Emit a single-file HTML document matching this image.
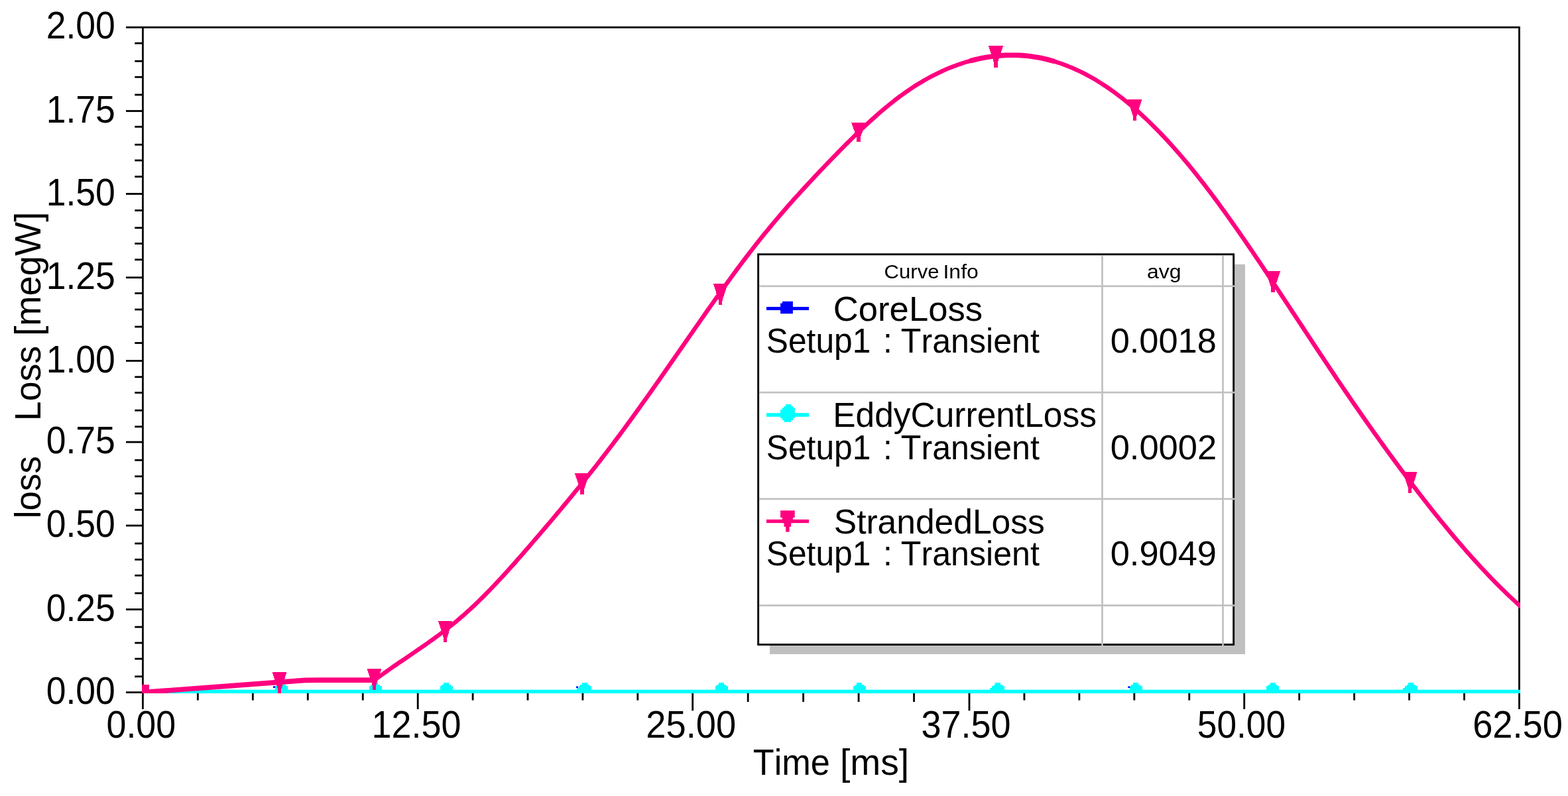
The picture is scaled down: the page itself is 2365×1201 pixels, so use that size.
<!DOCTYPE html>
<html lang="en"><head><meta charset="utf-8"><title>loss plot</title>
<style>html,body{margin:0;padding:0;background:#fff;overflow:hidden}svg{display:block}text{font-family:"Liberation Sans",sans-serif;fill:#000;font-kerning:none;white-space:pre}</style>
</head><body>
<svg width="2365" height="1201" viewBox="0 0 2365 1201">
<rect x="0" y="0" width="2365" height="1201" fill="#fff"/>
<g>
<rect x="190.00" y="39.85" width="25.40" height="2.80" fill="#000"/>
<rect x="203.30" y="63.85" width="12.10" height="2.80" fill="#000"/>
<rect x="203.30" y="90.85" width="12.10" height="2.80" fill="#000"/>
<rect x="203.30" y="114.85" width="12.10" height="2.80" fill="#000"/>
<rect x="203.30" y="141.60" width="12.10" height="2.80" fill="#000"/>
<rect x="190.00" y="166.10" width="25.40" height="2.80" fill="#000"/>
<rect x="203.30" y="189.85" width="12.10" height="2.80" fill="#000"/>
<rect x="203.30" y="216.85" width="12.10" height="2.80" fill="#000"/>
<rect x="203.30" y="240.60" width="12.10" height="2.80" fill="#000"/>
<rect x="203.30" y="265.10" width="12.10" height="2.80" fill="#000"/>
<rect x="190.00" y="291.10" width="25.40" height="2.80" fill="#000"/>
<rect x="203.30" y="316.10" width="12.10" height="2.80" fill="#000"/>
<rect x="203.30" y="342.35" width="12.10" height="2.80" fill="#000"/>
<rect x="203.30" y="366.10" width="12.10" height="2.80" fill="#000"/>
<rect x="203.30" y="390.35" width="12.10" height="2.80" fill="#000"/>
<rect x="190.00" y="417.35" width="25.40" height="2.80" fill="#000"/>
<rect x="203.30" y="441.10" width="12.10" height="2.80" fill="#000"/>
<rect x="203.30" y="465.60" width="12.10" height="2.80" fill="#000"/>
<rect x="203.30" y="491.60" width="12.10" height="2.80" fill="#000"/>
<rect x="203.30" y="516.10" width="12.10" height="2.80" fill="#000"/>
<rect x="190.00" y="543.00" width="25.40" height="2.80" fill="#000"/>
<rect x="203.30" y="567.35" width="12.10" height="2.80" fill="#000"/>
<rect x="203.30" y="591.10" width="12.10" height="2.80" fill="#000"/>
<rect x="203.30" y="617.80" width="12.10" height="2.80" fill="#000"/>
<rect x="203.30" y="642.35" width="12.10" height="2.80" fill="#000"/>
<rect x="190.00" y="665.60" width="25.40" height="2.80" fill="#000"/>
<rect x="203.30" y="692.85" width="12.10" height="2.80" fill="#000"/>
<rect x="203.30" y="717.35" width="12.10" height="2.80" fill="#000"/>
<rect x="203.30" y="743.10" width="12.10" height="2.80" fill="#000"/>
<rect x="203.30" y="767.85" width="12.10" height="2.80" fill="#000"/>
<rect x="190.00" y="791.60" width="25.40" height="2.80" fill="#000"/>
<rect x="203.30" y="818.60" width="12.10" height="2.80" fill="#000"/>
<rect x="203.30" y="842.85" width="12.10" height="2.80" fill="#000"/>
<rect x="203.30" y="866.85" width="12.10" height="2.80" fill="#000"/>
<rect x="203.30" y="893.60" width="12.10" height="2.80" fill="#000"/>
<rect x="190.00" y="918.10" width="25.40" height="2.80" fill="#000"/>
<rect x="203.30" y="944.60" width="12.10" height="2.80" fill="#000"/>
<rect x="203.30" y="968.60" width="12.10" height="2.80" fill="#000"/>
<rect x="203.30" y="992.60" width="12.10" height="2.80" fill="#000"/>
<rect x="203.30" y="1019.30" width="12.10" height="2.80" fill="#000"/>
<rect x="190.00" y="1043.25" width="25.40" height="2.80" fill="#000"/>
<rect x="214.00" y="1044.65" width="2.80" height="25.35" fill="#000"/>
<rect x="296.96" y="1044.65" width="2.80" height="11.95" fill="#000"/>
<rect x="379.92" y="1044.65" width="2.80" height="11.95" fill="#000"/>
<rect x="462.88" y="1044.65" width="2.80" height="11.95" fill="#000"/>
<rect x="545.84" y="1044.65" width="2.80" height="11.95" fill="#000"/>
<rect x="628.80" y="1044.65" width="2.80" height="25.35" fill="#000"/>
<rect x="711.70" y="1044.65" width="2.80" height="11.95" fill="#000"/>
<rect x="794.60" y="1044.65" width="2.80" height="11.95" fill="#000"/>
<rect x="877.50" y="1044.65" width="2.80" height="11.95" fill="#000"/>
<rect x="960.40" y="1044.65" width="2.80" height="11.95" fill="#000"/>
<rect x="1043.30" y="1044.65" width="2.80" height="27.65" fill="#000"/>
<rect x="1126.76" y="1044.65" width="2.80" height="14.35" fill="#000"/>
<rect x="1210.22" y="1044.65" width="2.80" height="14.35" fill="#000"/>
<rect x="1293.68" y="1044.65" width="2.80" height="14.35" fill="#000"/>
<rect x="1377.14" y="1044.65" width="2.80" height="14.35" fill="#000"/>
<rect x="1460.60" y="1044.65" width="2.80" height="27.65" fill="#000"/>
<rect x="1543.54" y="1044.65" width="2.80" height="11.95" fill="#000"/>
<rect x="1626.48" y="1044.65" width="2.80" height="11.95" fill="#000"/>
<rect x="1709.42" y="1044.65" width="2.80" height="11.95" fill="#000"/>
<rect x="1792.36" y="1044.65" width="2.80" height="11.95" fill="#000"/>
<rect x="1875.30" y="1044.65" width="2.80" height="25.35" fill="#000"/>
<rect x="1958.26" y="1044.65" width="2.80" height="11.95" fill="#000"/>
<rect x="2041.22" y="1044.65" width="2.80" height="11.95" fill="#000"/>
<rect x="2124.18" y="1044.65" width="2.80" height="11.95" fill="#000"/>
<rect x="2207.14" y="1044.65" width="2.80" height="11.95" fill="#000"/>
<rect x="2290.10" y="1044.65" width="2.80" height="25.35" fill="#000"/>
<rect x="214.00" y="39.85" width="2078.90" height="2.80" fill="#000"/>
<rect x="214.00" y="1043.25" width="2078.90" height="2.80" fill="#000"/>
<rect x="214.00" y="41.25" width="2.80" height="1003.40" fill="#000"/>
<rect x="2290.10" y="41.25" width="2.80" height="1003.40" fill="#000"/>
</g>
<text transform="translate(69.71,1061.85) scale(0.9391,1)" font-size="57px">0.00</text>
<text transform="translate(69.71,936.70) scale(0.9391,1)" font-size="57px">0.25</text>
<text transform="translate(69.71,810.20) scale(0.9391,1)" font-size="57px">0.50</text>
<text transform="translate(69.71,684.20) scale(0.9391,1)" font-size="57px">0.75</text>
<text transform="translate(69.71,561.60) scale(0.9391,1)" font-size="57px">1.00</text>
<text transform="translate(69.71,435.95) scale(0.9391,1)" font-size="57px">1.25</text>
<text transform="translate(69.71,309.70) scale(0.9391,1)" font-size="57px">1.50</text>
<text transform="translate(69.71,184.70) scale(0.9391,1)" font-size="57px">1.75</text>
<text transform="translate(69.71,58.45) scale(0.9391,1)" font-size="57px">2.00</text>
<text transform="translate(160.50,1112.80) scale(0.9438,1)" font-size="57px">0.00</text>
<text transform="translate(560.57,1112.80) scale(0.9460,1)" font-size="57px">12.50</text>
<text transform="translate(974.27,1112.80) scale(0.9524,1)" font-size="57px">25.00</text>
<text transform="translate(1389.54,1112.80) scale(0.9469,1)" font-size="57px">37.50</text>
<text transform="translate(1805.77,1112.80) scale(0.9353,1)" font-size="57px">50.00</text>
<text transform="translate(2221.14,1112.80) scale(0.9526,1)" font-size="57px">62.50</text>
<g>
<text transform="translate(1135.73,1169.00) scale(0.9422,1)" font-size="55.5px">Time</text>
<text transform="translate(1266.97,1169.00) scale(0.9937,1)" font-size="55.5px">[ms]</text>
</g>
<g>
<text transform="translate(61.20,782.32) rotate(-90) scale(0.9548,1)" font-size="55.5px">loss</text>
<text transform="translate(61.20,635.15) rotate(-90) scale(0.9668,1)" font-size="55.5px">Loss</text>
<text transform="translate(61.20,506.87) rotate(-90) scale(0.9789,1)" font-size="55.5px">[megW]</text>
</g>
<defs><clipPath id="pc"><rect x="214.00" y="39.85" width="2078.90" height="1006.20"/></clipPath></defs>
<g clip-path="url(#pc)">
<rect x="215.4" y="1041.5" width="2078.1" height="3.5" fill="#0000ff"/>
<rect x="215.4" y="1040.7" width="2078.1" height="5.3" fill="#00ffff"/>
<path d="M419.9 1030.0H427.9V1032.8H419.9ZM417.2 1032.7H430.7V1035.4H417.2ZM414.6 1035.3H433.6V1041.0H414.6ZM561.8 1030.0H569.8V1032.8H561.8ZM559.1 1032.7H572.6V1035.4H559.1ZM556.5 1035.3H575.5V1041.0H556.5ZM668.8 1030.0H676.8V1032.8H668.8ZM666.1 1032.7H679.6V1035.4H666.1ZM663.5 1035.3H682.5V1041.0H663.5ZM878.0 1030.0H886.0V1032.8H878.0ZM875.3 1032.7H888.8V1035.4H875.3ZM872.7 1035.3H891.7V1041.0H872.7ZM869.9 1038.1H891.7V1041.0H869.9ZM1083.8 1030.0H1091.8V1032.8H1083.8ZM1081.1 1032.7H1094.6V1035.4H1081.1ZM1078.5 1035.3H1097.5V1041.0H1078.5ZM1292.2 1030.0H1300.2V1032.8H1292.2ZM1289.5 1032.7H1303.0V1035.4H1289.5ZM1286.9 1035.3H1305.9V1041.0H1286.9ZM1501.2 1030.0H1509.2V1032.8H1501.2ZM1498.5 1032.7H1512.0V1035.4H1498.5ZM1495.9 1035.3H1514.9V1041.0H1495.9ZM1493.1 1038.1H1514.9V1041.0H1493.1ZM1709.1 1030.0H1717.1V1032.8H1709.1ZM1706.4 1032.7H1719.9V1035.4H1706.4ZM1703.8 1035.3H1722.8V1041.0H1703.8ZM1915.5 1030.0H1923.5V1032.8H1915.5ZM1912.8 1032.7H1926.3V1035.4H1912.8ZM1910.2 1035.3H1929.2V1041.0H1910.2ZM2124.3 1030.0H2132.3V1032.8H2124.3ZM2121.6 1032.7H2135.1V1035.4H2121.6ZM2119.0 1035.3H2138.0V1041.0H2119.0ZM2116.2 1038.1H2138.0V1041.0H2116.2Z" fill="#00ffff" shape-rendering="crispEdges"/>
<path d="M411.9 1035.3h3.1v2.7h-3.1zM869 1035.5h3v2.6h-3zM1701.3 1035.5h3v2.6h-3z" fill="#0000ff"/>
<path d="M215.5 1044.6 460.0 1026.4 480.0 1026.1 564.5 1026.1" fill="none" stroke="#ff007f" stroke-width="7.6" stroke-linejoin="round"/>
<path d="M564.7 1026.1 568.7 1023.3 572.7 1020.3 576.7 1017.5 580.7 1014.6 584.7 1011.8 588.7 1009.0 592.7 1006.2 596.7 1003.5 600.7 1000.7 604.7 998.0 608.7 995.3 612.7 992.6 616.7 989.8 620.7 987.1 624.7 984.4 628.7 981.6 632.7 978.9 636.7 976.1 640.7 973.3 644.7 970.5 648.7 967.7 652.7 964.8 656.7 961.9 660.7 959.0 664.7 956.0 668.7 953.0 672.7 949.9 676.7 946.8 680.7 943.6 684.7 940.4 688.7 937.1 692.7 933.7 696.7 930.3 700.7 926.8 704.7 923.2 708.7 919.6 712.7 915.9 716.7 912.1 720.7 908.2 724.7 904.3 728.7 900.4 732.7 896.3 736.7 892.3 740.7 888.1 744.7 883.9 748.7 879.7 752.7 875.4 756.7 871.1 760.7 866.8 764.7 862.4 768.7 857.9 772.7 853.5 776.7 849.0 780.7 844.4 784.7 839.9 788.7 835.3 792.7 830.7 796.7 826.1 800.7 821.5 804.7 816.8 808.7 812.1 812.7 807.5 816.7 802.8 820.7 798.1 824.7 793.4 828.7 788.7 832.7 784.0 836.7 779.2 840.7 774.4 844.7 769.7 848.7 764.9 852.7 760.1 856.7 755.2 860.7 750.4 864.7 745.5 868.7 740.6 872.7 735.7 876.7 730.8 880.7 725.8 884.7 720.8 888.7 715.8 892.7 710.8 896.7 705.7 900.7 700.6 904.7 695.5 908.7 690.3 912.7 685.1 916.7 679.9 920.7 674.6 924.7 669.4 928.7 664.0 932.7 658.7 936.7 653.3 940.7 647.9 944.7 642.4 948.7 636.9 952.7 631.5 956.7 625.9 960.7 620.4 964.7 614.8 968.7 609.2 972.7 603.6 976.7 598.0 980.7 592.3 984.7 586.7 988.7 581.0 992.7 575.3 996.7 569.6 1000.7 563.9 1004.7 558.2 1008.7 552.4 1012.7 546.7 1016.7 540.9 1020.7 535.2 1024.7 529.4 1028.7 523.6 1032.7 517.9 1036.7 512.1 1040.7 506.3 1044.7 500.6 1048.7 494.8 1052.7 489.1 1056.7 483.3 1060.7 477.6 1064.7 471.9 1068.7 466.2 1072.7 460.5 1076.7 454.8 1080.7 449.2 1084.7 443.6 1088.7 438.0 1092.7 432.4 1096.7 426.8 1100.7 421.3 1104.7 415.9 1108.7 410.4 1112.7 405.0 1116.7 399.6 1120.7 394.3 1124.7 389.0 1128.7 383.8 1132.7 378.6 1136.7 373.4 1140.7 368.3 1144.7 363.3 1148.7 358.3 1152.7 353.3 1156.7 348.4 1160.7 343.6 1164.7 338.8 1168.7 334.0 1172.7 329.3 1176.7 324.6 1180.7 319.9 1184.7 315.3 1188.7 310.7 1192.7 306.2 1196.7 301.7 1200.7 297.2 1204.7 292.8 1208.7 288.4 1212.7 284.0 1216.7 279.7 1220.7 275.4 1224.7 271.1 1228.7 266.8 1232.7 262.6 1236.7 258.3 1240.7 254.1 1244.7 249.9 1248.7 245.8 1252.7 241.6 1256.7 237.5 1260.7 233.4 1264.7 229.3 1268.7 225.2 1272.7 221.2 1276.7 217.1 1280.7 213.2 1284.7 209.2 1288.7 205.3 1292.7 201.4 1296.7 197.6 1300.7 193.8 1304.7 190.0 1308.7 186.3 1312.7 182.6 1316.7 179.0 1320.7 175.4 1324.7 171.9 1328.7 168.4 1332.7 165.0 1336.7 161.7 1340.7 158.4 1344.7 155.2 1348.7 152.0 1352.7 148.9 1356.7 145.9 1360.7 143.0 1364.7 140.1 1368.7 137.3 1372.7 134.6 1376.7 131.9 1380.7 129.3 1384.7 126.8 1388.7 124.4 1392.7 122.0 1396.7 119.7 1400.7 117.5 1404.7 115.4 1408.7 113.3 1412.7 111.3 1416.7 109.3 1420.7 107.5 1424.7 105.7 1428.7 103.9 1432.7 102.3 1436.7 100.7 1440.7 99.2 1444.7 97.7 1448.7 96.4 1452.7 95.0 1456.7 93.8 1460.7 92.6 1464.7 91.5 1468.7 90.5 1472.7 89.5 1476.7 88.6 1480.7 87.8 1484.7 87.0 1488.7 86.3 1492.7 85.7 1496.7 85.1 1500.7 84.6 1504.7 84.2 1508.7 83.9 1512.7 83.6 1516.7 83.4 1520.7 83.2 1524.7 83.2 1528.7 83.2 1532.7 83.3 1536.7 83.4 1540.7 83.6 1544.7 83.9 1548.7 84.3 1552.7 84.8 1556.7 85.3 1560.7 85.9 1564.7 86.6 1568.7 87.3 1572.7 88.1 1576.7 89.0 1580.7 90.0 1584.7 91.1 1588.7 92.2 1592.7 93.4 1596.7 94.7 1600.7 96.0 1604.7 97.5 1608.7 99.0 1612.7 100.6 1616.7 102.2 1620.7 104.0 1624.7 105.8 1628.7 107.7 1632.7 109.7 1636.7 111.7 1640.7 113.8 1644.7 116.0 1648.7 118.3 1652.7 120.6 1656.7 123.1 1660.7 125.6 1664.7 128.2 1668.7 130.8 1672.7 133.5 1676.7 136.3 1680.7 139.2 1684.7 142.2 1688.7 145.2 1692.7 148.3 1696.7 151.5 1700.7 154.7 1704.7 158.0 1708.7 161.4 1712.7 164.9 1716.7 168.5 1720.7 172.1 1724.7 175.8 1728.7 179.5 1732.7 183.3 1736.7 187.2 1740.7 191.2 1744.7 195.2 1748.7 199.3 1752.7 203.5 1756.7 207.7 1760.7 212.0 1764.7 216.4 1768.7 220.8 1772.7 225.3 1776.7 229.9 1780.7 234.5 1784.7 239.2 1788.7 243.9 1792.7 248.7 1796.7 253.6 1800.7 258.5 1804.7 263.5 1808.7 268.6 1812.7 273.7 1816.7 278.8 1820.7 284.1 1824.7 289.3 1828.7 294.6 1832.7 300.0 1836.7 305.4 1840.7 310.9 1844.7 316.4 1848.7 321.9 1852.7 327.5 1856.7 333.1 1860.7 338.8 1864.7 344.5 1868.7 350.2 1872.7 356.0 1876.7 361.8 1880.7 367.6 1884.7 373.4 1888.7 379.3 1892.7 385.2 1896.7 391.1 1900.7 397.0 1904.7 403.0 1908.7 409.0 1912.7 415.0 1916.7 421.0 1920.7 427.0 1924.7 433.0 1928.7 439.1 1932.7 445.1 1936.7 451.2 1940.7 457.2 1944.7 463.3 1948.7 469.4 1952.7 475.4 1956.7 481.5 1960.7 487.6 1964.7 493.6 1968.7 499.7 1972.7 505.8 1976.7 511.8 1980.7 517.9 1984.7 523.9 1988.7 530.0 1992.7 536.0 1996.7 542.0 2000.7 548.0 2004.7 554.0 2008.7 560.0 2012.7 565.9 2016.7 571.9 2020.7 577.8 2024.7 583.7 2028.7 589.6 2032.7 595.4 2036.7 601.3 2040.7 607.1 2044.7 612.9 2048.7 618.6 2052.7 624.4 2056.7 630.1 2060.7 635.8 2064.7 641.5 2068.7 647.1 2072.7 652.8 2076.7 658.4 2080.7 664.0 2084.7 669.5 2088.7 675.1 2092.7 680.6 2096.7 686.1 2100.7 691.5 2104.7 697.0 2108.7 702.4 2112.7 707.8 2116.7 713.1 2120.7 718.5 2124.7 723.8 2128.7 729.0 2132.7 734.3 2136.7 739.5 2140.7 744.7 2144.7 749.9 2148.7 755.0 2152.7 760.1 2156.7 765.2 2160.7 770.2 2164.7 775.2 2168.7 780.2 2172.7 785.2 2176.7 790.1 2180.7 794.9 2184.7 799.8 2188.7 804.6 2192.7 809.4 2196.7 814.1 2200.7 818.8 2204.7 823.4 2208.7 828.0 2212.7 832.6 2216.7 837.1 2220.7 841.6 2224.7 846.0 2228.7 850.4 2232.7 854.8 2236.7 859.1 2240.7 863.3 2244.7 867.6 2248.7 871.7 2252.7 875.9 2256.7 879.9 2260.7 883.9 2264.7 887.9 2268.7 891.8 2272.7 895.7 2276.7 899.5 2280.7 903.3 2284.7 907.0 2288.7 910.7 2292.7 914.3 2296.7 917.8" fill="none" stroke="#ff007f" stroke-width="6.4" stroke-linejoin="round"/>
<path d="M1464.7 91.5 1468.7 90.5 1472.7 89.5 1476.7 88.6 1480.7 87.8 1484.7 87.0 1488.7 86.3 1492.7 85.7 1496.7 85.1 1500.7 84.6 1504.7 84.2 1508.7 83.9 1512.7 83.6 1516.7 83.4 1520.7 83.2 1524.7 83.2 1528.7 83.2 1532.7 83.3 1536.7 83.4 1540.7 83.6 1544.7 83.9 1548.7 84.3 1552.7 84.8 1556.7 85.3 1560.7 85.9 1564.7 86.6 1568.7 87.3 1572.7 88.1 1576.7 89.0 1580.7 90.0 1584.7 91.1 1588.7 92.2" fill="none" stroke="#ff007f" stroke-width="7.6" stroke-linejoin="round" stroke-linecap="round"/>
<path d="M410.6 1014.0H432.6L424.2 1040.0V1046.3H419.0V1040.0ZM553.5 1008.8H575.5L567.1 1034.7V1041.0H561.9V1034.7ZM660.7 936.5H682.7L674.3 962.4V968.7H669.1V962.4ZM866.9 714.2H888.9L880.5 740.1V746.4H875.3V740.1ZM1075.8 428.0H1097.8L1089.4 453.9V460.2H1084.2V453.9ZM1283.9 184.5H1305.9L1297.5 208.0V214.3H1292.3V208.0ZM1491.0 69.3H1513.0L1504.6 95.3V101.6H1499.4V95.3ZM1700.6 149.5H1722.6L1714.2 175.7V182.0H1709.0V175.7ZM1909.0 409.2H1931.0L1922.6 435.1V441.4H1917.4V435.1ZM2115.8 711.5H2137.8L2129.4 737.5V743.8H2124.2V737.5ZM214 1032.7H224.7V1046H214Z" fill="#ff007f" shape-rendering="crispEdges"/>
</g>
<g>
<path d="M1862.1 398.7H1878V987H1161V974H1862.1Z" fill="#c0c0c0"/>
<rect x="1142.2" y="382.3" width="719.9" height="591.7" fill="#000"/>
<rect x="1145.1" y="385.2" width="714.1" height="585.9" fill="#fff"/>
<rect x="1145.10" y="430.45" width="717.00" height="2.70" fill="#c0c0c0"/>
<rect x="1145.10" y="590.75" width="717.00" height="2.70" fill="#c0c0c0"/>
<rect x="1145.10" y="751.45" width="717.00" height="2.70" fill="#c0c0c0"/>
<rect x="1145.10" y="912.15" width="717.00" height="2.70" fill="#c0c0c0"/>
<rect x="1661.15" y="385.20" width="2.70" height="588.80" fill="#c0c0c0"/>
<rect x="1843.15" y="385.20" width="2.70" height="588.80" fill="#c0c0c0"/>
<rect x="1156" y="463" width="64" height="5" fill="#0000ff"/>
<path d="M1180 454.7H1195.9V473.3H1177.1V457.4H1180Z" fill="#0000ff"/>
<rect x="1156" y="623.2" width="64" height="5.6" fill="#00ffff"/>
<path d="M1185.2 610.0H1193.2V612.7H1185.2ZM1182.5 612.7H1196.0V615.2H1182.5ZM1179.9 615.2H1198.9V618.1H1179.9ZM1177.1 618.1H1198.9V631.0H1177.1ZM1179.9 631.0H1196.0V634.0H1179.9ZM1182.5 634.0H1193.2V636.8H1182.5Z" fill="#00ffff"/>
<rect x="1156" y="783.8" width="64" height="5.3" fill="#ff007f"/>
<path d="M1177.1 770.2H1198.7V781.1H1177.1ZM1179.9 781.1H1195.9V789.2H1179.9ZM1182.5 789.2H1193.1V794.7H1182.5ZM1185.2 794.7H1190.6V802.6H1185.2Z" fill="#ff007f"/>
</g>
<g>
<text transform="translate(1333.62,420.00) scale(1.0494,1)" font-size="29.6px">Curve</text>
<text transform="translate(1422.45,420.00) scale(1.0816,1)" font-size="29.6px">Info</text>
</g>
<text transform="translate(1730.04,419.80) scale(1.0817,1)" font-size="29.6px">avg</text>
<text transform="translate(1256.83,484.00) scale(1.0064,1)" font-size="52.3px">CoreLoss</text>
<g>
<text transform="translate(1155.74,532.20) scale(0.9513,1)" font-size="52.3px">Setup1</text>
<text transform="translate(1331.94,532.20) scale(0.9513,1)" font-size="52.3px">:</text>
<text transform="translate(1358.87,532.20) scale(0.9586,1)" font-size="52.3px">Transient</text>
</g>
<text transform="translate(1674.65,532.20) scale(1.0016,1)" font-size="52.3px">0.0018</text>
<text transform="translate(1256.28,644.45) scale(0.9842,1)" font-size="52.3px">EddyCurrentLoss</text>
<g>
<text transform="translate(1155.74,692.65) scale(0.9513,1)" font-size="52.3px">Setup1</text>
<text transform="translate(1331.94,692.65) scale(0.9513,1)" font-size="52.3px">:</text>
<text transform="translate(1358.87,692.65) scale(0.9586,1)" font-size="52.3px">Transient</text>
</g>
<text transform="translate(1674.65,692.65) scale(1.0039,1)" font-size="52.3px">0.0002</text>
<text transform="translate(1257.76,804.90) scale(0.9856,1)" font-size="52.3px">StrandedLoss</text>
<g>
<text transform="translate(1155.74,853.10) scale(0.9513,1)" font-size="52.3px">Setup1</text>
<text transform="translate(1331.94,853.10) scale(0.9513,1)" font-size="52.3px">:</text>
<text transform="translate(1358.87,853.10) scale(0.9586,1)" font-size="52.3px">Transient</text>
</g>
<text transform="translate(1674.65,853.10) scale(1.0029,1)" font-size="52.3px">0.9049</text>
</svg></body></html>
